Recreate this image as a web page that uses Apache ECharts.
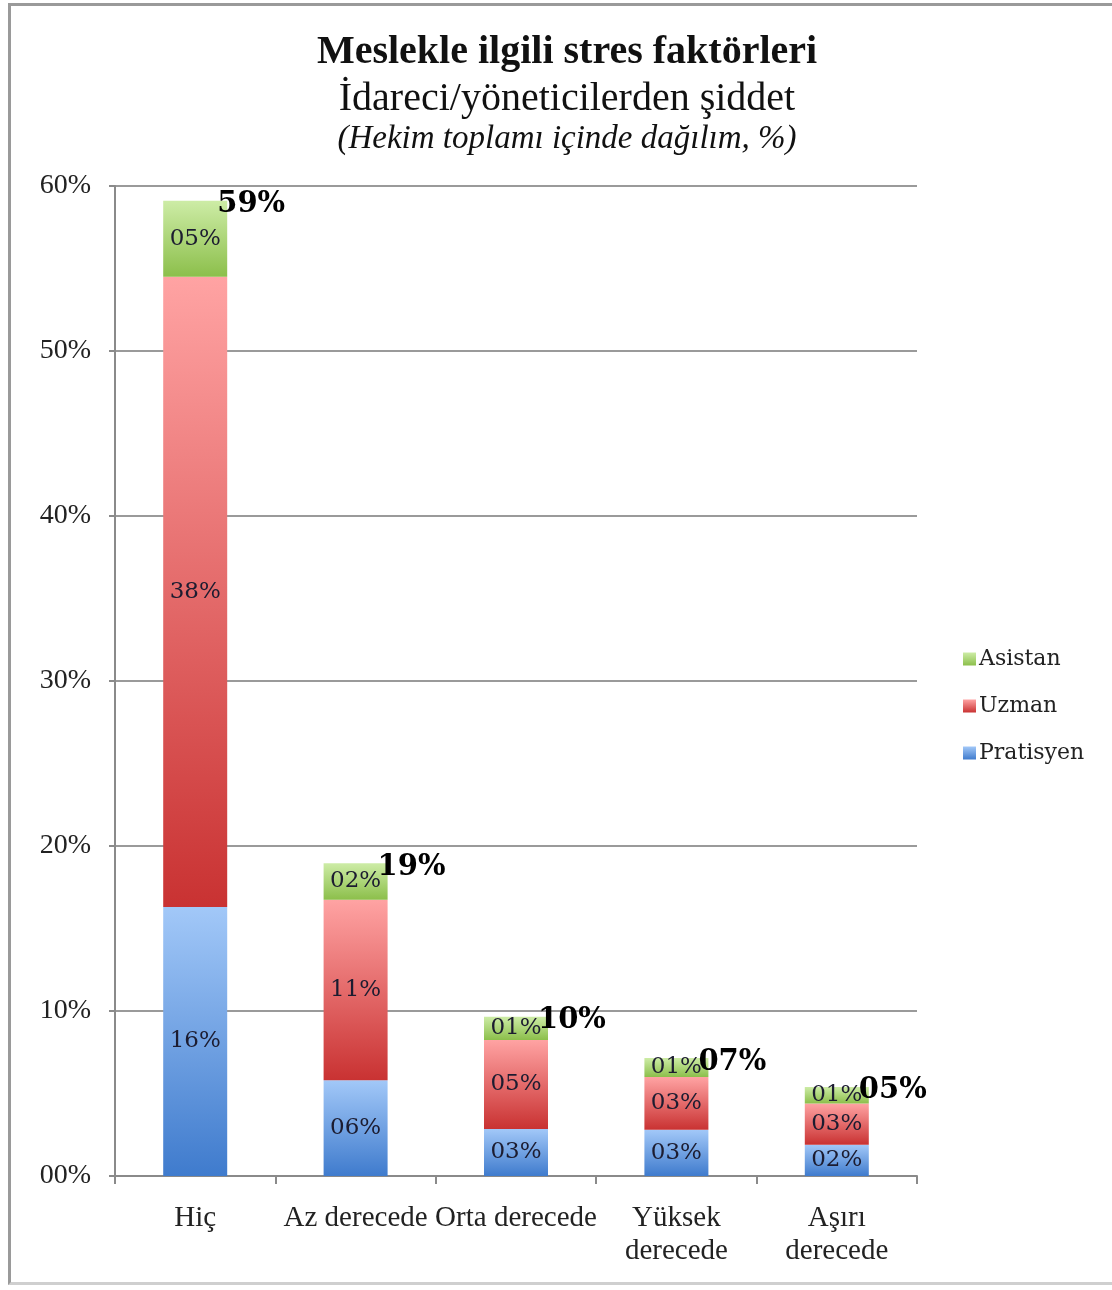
<!DOCTYPE html>
<html>
<head>
<meta charset="utf-8">
<script src="https://cdn.jsdelivr.net/npm/echarts@6/dist/echarts.min.js"></script>
<style>
html, body { margin: 0; padding: 0; background: #fff; }
#frame {
  position: absolute; left: 8px; top: 3px; width: 1110px; height: 1282px;
  border-left: 3px solid #9a9a9a; border-top: 3px solid #9a9a9a; border-bottom: 3px solid #cfcfcf;
  box-sizing: border-box;
}
#chart { position: absolute; left: 0; top: 0; width: 1112px; height: 1290px; }
</style>
</head>
<body>
<div id="frame"></div>
<div id="chart"></div>
<script>
// kategoriler ve seriler (yüzde)
const categories = ['Hiç', 'Az derecede', 'Orta derecede', 'Yüksek\nderecede', 'Aşırı\nderecede'];
const pratisyen = [16.3, 5.8, 2.85, 2.8, 1.9];
const uzman = [38.2, 10.95, 5.4, 3.2, 2.5];
const asistan = [4.6, 2.2, 1.4, 1.15, 1.0];
const totals = [59.1, 18.95, 9.65, 7.15, 5.4];
const yTicks = [0, 10, 20, 30, 40, 50, 60];

const serif = 'Liberation Serif';
const labelFont = 'DejaVu Serif';

function pct(v) {
  return String(Math.round(v)).padStart(2, '0') + '%';
}

function grad(top, bottom) {
  return new echarts.graphic.LinearGradient(0, 0, 0, 1, [
    { offset: 0, color: top },
    { offset: 1, color: bottom }
  ]);
}

const innerLabel = {
  show: true,
  position: 'inside',
  fontFamily: labelFont,
  fontSize: 23,
  color: '#1c1c30',
  formatter: p => pct(p.value)
};

const chart = echarts.init(document.getElementById('chart'));
const option = {
  animation: false,
  title: [
    {
      text: 'Meslekle ilgili stres faktörleri',
      left: 562, top: 28, textAlign: 'center',
      textStyle: { fontFamily: serif, fontSize: 40, fontWeight: 'bold', color: '#111' }
    },
    {
      text: 'İdareci/yöneticilerden şiddet',
      left: 562, top: 74, textAlign: 'center',
      textStyle: { fontFamily: serif, fontSize: 40, fontWeight: 'normal', color: '#111' }
    },
    {
      text: '(Hekim toplamı içinde dağılım, %)',
      left: 562, top: 118, textAlign: 'center',
      textStyle: { fontFamily: serif, fontSize: 33, fontStyle: 'italic', fontWeight: 'normal', color: '#111' }
    }
  ],
  legend: {
    orient: 'vertical',
    left: 958, top: 643,
    itemWidth: 13, itemHeight: 13, itemGap: 25,
    icon: 'rect',
    data: ['Asistan', 'Uzman', 'Pratisyen'],
    textStyle: { fontFamily: labelFont, fontSize: 22, color: '#222', padding: [0, 0, 0, -2] }
  },
  grid: { left: 115, right: 195, top: 186, bottom: 114 },
  xAxis: {
    type: 'category',
    data: categories,
    axisLine: { lineStyle: { color: '#8a8a8a', width: 2 } },
    axisTick: { show: true, length: 8, lineStyle: { color: '#8a8a8a', width: 2 } },
    axisLabel: { fontFamily: serif, fontSize: 29, color: '#222', margin: 26, lineHeight: 33, interval: 0 }
  },
  yAxis: {
    type: 'value',
    min: 0, max: 60, interval: 10,
    axisLine: { show: true, lineStyle: { color: '#8a8a8a', width: 2 } },
    axisTick: { show: true, length: 6, lineStyle: { color: '#8a8a8a', width: 2 } },
    splitLine: { lineStyle: { color: '#9a9a9a', width: 2 } },
    axisLabel: {
      fontFamily: serif, fontSize: 28, color: '#222', margin: 24,
      formatter: v => (yTicks.indexOf(v) >= 0 ? pct(v) : '')
    }
  },
  series: [
    {
      name: 'Pratisyen', type: 'bar', stack: 'toplam', barWidth: 64,
      data: pratisyen,
      itemStyle: { color: grad('#a2c8f8', '#3f7bcd') },
      label: innerLabel
    },
    {
      name: 'Uzman', type: 'bar', stack: 'toplam',
      data: uzman,
      itemStyle: { color: grad('#ffa3a3', '#c93232') },
      label: innerLabel
    },
    {
      name: 'Asistan', type: 'bar', stack: 'toplam',
      data: asistan,
      itemStyle: { color: grad('#cdeca6', '#8cbf4b') },
      label: innerLabel
    },
    {
      // toplam etiketleri
      name: 'Toplam', type: 'scatter',
      data: totals,
      symbolSize: 0,
      silent: true,
      itemStyle: { opacity: 1 },
      label: {
        show: true,
        position: 'right',
        distance: 22,
        offset: [0, 4],
        fontFamily: labelFont,
        fontSize: 29,
        fontWeight: 'bold',
        color: '#000',
        formatter: p => pct(p.value)
      }
    }
  ]
};
chart.setOption(option);
</script>
</body>
</html>
